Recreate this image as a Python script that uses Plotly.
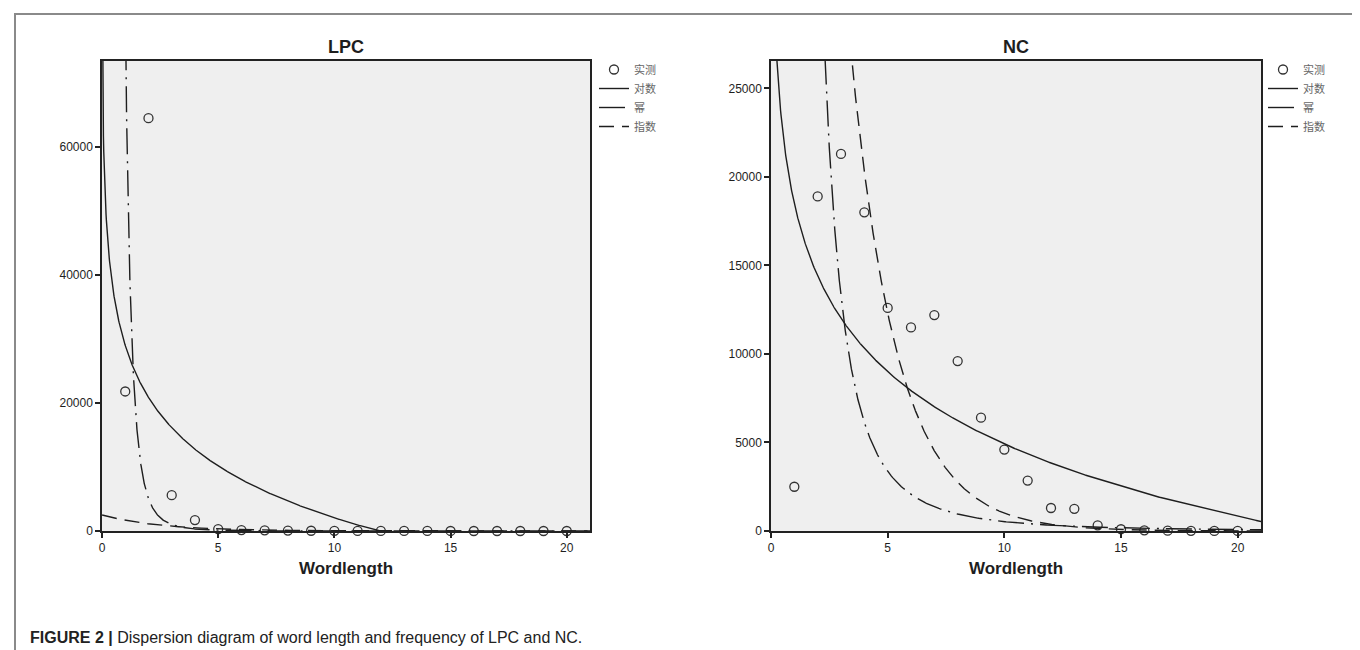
import numpy as np
import plotly.graph_objects as go

# ---------------- data ----------------
word_length = list(range(1, 21))
lpc_freq = [21800, 64500, 5600, 1700, 300, 150, 100, 60, 40, 25,
            15, 10, 6, 4, 3, 2, 1, 1, 1, 0]
nc_freq = [2500, 18900, 21300, 18000, 12600, 11500, 12200, 9600, 6400, 4600,
           2850, 1300, 1250, 320, 100, 40, 20, 10, 5, 2]

# fitted curve coefficients
lpc_log = [29000, -11700]      # y = a + b*ln(x)
lpc_pow = [81300, -4.0]        # y = b0 * x^b1
lpc_exp = [2500, -0.40]        # y = b0 * exp(b1*x)
nc_log = [18500, -5900]
nc_pow = [252000, -2.68]
nc_exp = [150000, -0.50]

panel_titles = ["LPC", "NC"]
legend_names = ["实测", "对数", "幂", "指数"]
x_title = "Wordlength"
caption_bold = "FIGURE 2 |"
caption_text = " Dispersion diagram of word length and frequency of LPC and NC."

# ---------------- layout geometry ----------------
W, H = 1360, 650
ml, mr, mt, mb = 94, 107, 53, 127
pw = W - ml - mr
ph = H - mt - mb


def px(xp):
    return (xp - ml) / pw


def py(yp):
    return (H - mb - yp) / ph


FONT = "Arial, 'Liberation Sans', sans-serif"
INK = "#1e1e1e"

x_fine = np.linspace(0.005, 21, 1500)
x_pow = np.concatenate([np.linspace(0.6, 5, 800), np.linspace(5, 21, 300)])

fig = go.Figure()

panels = [
    (lpc_freq, lpc_log, lpc_pow, lpc_exp, "x", "y", "legend"),
    (nc_freq, nc_log, nc_pow, nc_exp, "x2", "y2", "legend2"),
]

for freq, lg, pw_, ex, xa, ya, leg in panels:
    fig.add_trace(go.Scatter(
        x=word_length, y=freq, mode="markers", name=legend_names[0],
        marker=dict(symbol="circle-open", size=9, color="#333",
                    line=dict(width=1.3, color="#333")),
        xaxis=xa, yaxis=ya, legend=leg, cliponaxis=False))
    fig.add_trace(go.Scatter(
        x=x_fine, y=lg[0] + lg[1] * np.log(x_fine), mode="lines",
        name=legend_names[1], line=dict(color=INK, width=1.4),
        xaxis=xa, yaxis=ya, legend=leg))
    fig.add_trace(go.Scatter(
        x=x_pow, y=pw_[0] * np.power(x_pow, pw_[1]), mode="lines",
        name=legend_names[2],
        line=dict(color=INK, width=1.4, dash="26px,7px,2px,7px"),
        xaxis=xa, yaxis=ya, legend=leg))
    fig.add_trace(go.Scatter(
        x=x_fine, y=ex[0] * np.exp(ex[1] * x_fine), mode="lines",
        name=legend_names[3],
        line=dict(color=INK, width=1.4, dash="15px,8px"),
        xaxis=xa, yaxis=ya, legend=leg))

axis_common = dict(
    showgrid=False, zeroline=False, showline=True, linecolor="#222",
    linewidth=1.5, mirror=True, ticks="outside", ticklen=5, tickwidth=1.5,
    tickcolor="#222", tickfont=dict(family=FONT, size=12, color=INK),
)

left_dom = [0, px(582)]
right_dom = [px(763), 1]

legend_font = dict(family="'Noto Sans CJK SC', sans-serif", size=11,
                   color="#666")

fig.update_layout(
    width=W, height=H,
    margin=dict(l=ml, r=mr, t=mt, b=mb),
    paper_bgcolor="white", plot_bgcolor="#efefef",
    font=dict(family=FONT, color=INK),
    xaxis=dict(domain=left_dom, range=[0, 21], tickvals=[0, 5, 10, 15, 20],
               anchor="y",
               title=dict(text=f"<b>{x_title}</b>", standoff=8,
                          font=dict(size=17, family=FONT, color=INK)),
               **axis_common),
    yaxis=dict(domain=[0, 1], range=[0, 73440], tickvals=[0, 20000, 40000, 60000],
               tickformat="d", anchor="x", **axis_common),
    xaxis2=dict(domain=right_dom, range=[0, 21], tickvals=[0, 5, 10, 15, 20],
                anchor="y2",
                title=dict(text=f"<b>{x_title}</b>", standoff=8,
                           font=dict(size=17, family=FONT, color=INK)),
                **axis_common),
    yaxis2=dict(domain=[0, 1], range=[0, 26550],
                tickvals=[0, 5000, 10000, 15000, 20000, 25000],
                tickformat="d", anchor="x2", **axis_common),
    legend=dict(x=px(586), y=py(47), xanchor="left", yanchor="top",
                bgcolor="rgba(0,0,0,0)", itemwidth=30, tracegroupgap=0,
                font=legend_font),
    legend2=dict(x=px(1255), y=py(47), xanchor="left", yanchor="top",
                 bgcolor="rgba(0,0,0,0)", itemwidth=30, tracegroupgap=0,
                 font=legend_font),
    showlegend=True,
)

# panel titles
for title, xc in zip(panel_titles, [(94 + 582) / 2, (763 + 1253) / 2]):
    fig.add_annotation(text=f"<b>{title}</b>", x=px(xc), y=py(39),
                       xref="paper", yref="paper", showarrow=False,
                       xanchor="center", yanchor="middle",
                       font=dict(size=18, family=FONT, color=INK))

# caption
fig.add_annotation(text=f"<b>{caption_bold}</b>{caption_text}",
                   x=px(20), y=py(629), xref="paper", yref="paper",
                   showarrow=False, xanchor="left", yanchor="middle",
                   font=dict(size=16, family=FONT, color="#222"))

# figure frame
x0, x1, yt, yb = px(7), px(1354), py(6), py(655)
fig.add_shape(type="path",
              path=f"M {x0},{yb} L {x0},{yt} L {x1},{yt} L {x1},{yb}",
              xref="paper", yref="paper",
              line=dict(color="#8a8a8a", width=2))

fig.write_html("out.html")
